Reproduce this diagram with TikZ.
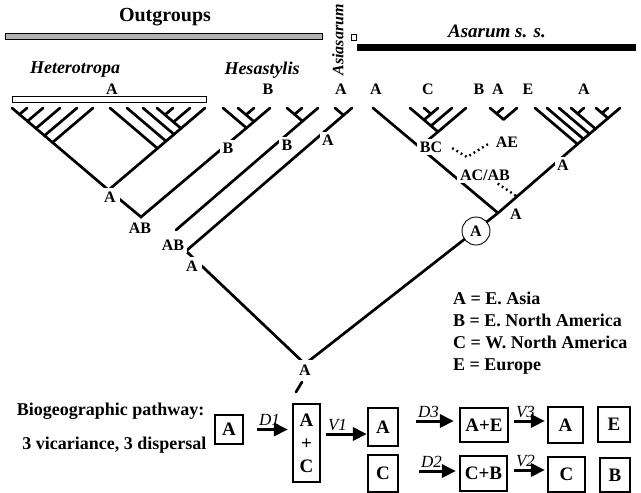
\documentclass[tikz,border=0pt]{standalone}
\usepackage{fontspec}
\setmainfont{Liberation Serif}
\usetikzlibrary{arrows.meta}

\begin{document}
\begin{tikzpicture}[x=1pt,y=-1pt,line cap=round,
  branch/.style={line width=2.7pt},
  alt/.style={line width=2.4pt,line cap=butt,dash pattern=on 1.8pt off 3.2pt},
  taxon/.style={font=\fontsize{18}{18}\selectfont\bfseries\itshape},
  tip/.style={font=\fontsize{16}{16}\selectfont\bfseries},
  anc/.style={font=\fontsize{16}{16}\selectfont\bfseries,fill=white,inner sep=2.5pt},
  area/.style={draw,line width=2.2pt,inner sep=0pt,align=center,font=\fontsize{19}{23}\selectfont\bfseries},
  move/.style={line width=3pt,line cap=butt,-{Triangle[length=14pt,width=13pt]}},
  event/.style={font=\fontsize{17}{17}\selectfont\itshape,anchor=south west,inner sep=0.5pt,yshift=1.5pt}]

\useasboundingbox (0,0) rectangle (641,493);
\clip (0,0) rectangle (641,493);

% group names and bars
\node[font=\fontsize{20}{20}\selectfont\bfseries] (outgroups) at (165,17) {Outgroups};
\draw[line width=0.6pt,fill=gray!60] (5,33) rectangle (322,39);
\node[taxon,font=\fontsize{16}{16}\selectfont\bfseries\itshape,rotate=90,anchor=west] (asiasarum) at (338,79) {Asiasarum};
\draw[line width=0.8pt] (351,34) rectangle (356,40);
\node[taxon,font=\fontsize{19}{19}\selectfont\bfseries\itshape] (asarum) at (497,31) {Asarum s. s.};
\fill (357,44) rectangle (636,51);
\node[taxon] (hetero) at (75,70) {Heterotropa};
\node[taxon] (hesa) at (262,70) {Hesastylis};
\draw[line width=0.7pt,fill=white] (12,96) rectangle (206,102);

% areas of the terminals
\foreach \x/\lab [count=\i] in {112/A,268/B,341/A,376/A,428/C,479/B,498/A,528/E,584/A}
  \node[tip] (area\i) at (\x,89) {\lab};

% terminals
\foreach \x [count=\i] in {12,27,43,60,77,93,110,127,143,157,173,190,205,
    223,238,254,270,287,302,318,335,352,373,410,424,438,452,466,490,503,517,
    535,547,559,571,584,596,608,620}
  \coordinate (x\i) at (\x,108);

% clade nodes, from leftmost and rightmost terminal
\foreach \n/\l/\r in {hb2/12/27,hb3/12/43,hb4/12/60,hb5/12/77,hb6/12/93,
    hroot/12/205,hc7/110/205,hc8/127/205,hc9/143/205,hc10/157/205,hd12/157/190,hd11/157/173,
    s1/223/270,s1b/238/270,s1c/238/254,s2/287/318,s2c/287/302,a1/335/352,
    c1/410/466,c2/410/452,c3/410/438,c4/424/438,e1/490/517,e2/490/503,
    g1/535/620,g2/547/620,g3/559/620,g4/571/620,g5/571/584,g6/596/620,g7/596/608}
  \coordinate (\n) at ({(\l+\r)/2},{108+0.425*(\r-\l)});

\foreach \a/\b in {x1/hroot,x2/hb2,x3/hb3,x4/hb4,x5/hb5,x6/hb6,
    x13/hroot,x7/hc7,x8/hc8,x9/hc9,x10/hc10,x12/hd12,x11/hd11,
    x14/s1,x17/s1,x15/s1b,x16/s1c,x18/s2,x20/s2,x19/s2c,x21/a1,x22/a1,
    x24/c1,x28/c1,x27/c2,x26/c3,x25/c4,x29/e1,x31/e1,x30/e2,
    x32/g1,x39/g1,x33/g2,x34/g3,x35/g4,x36/g5,x37/g6,x38/g7}
  \draw[branch] (\a) -- (\b);

% backbone
\coordinate (j1) at (141,217);
\coordinate (j2) at (176,230);
\coordinate (j3) at (186,251);
\coordinate (root) at (305,364);
\coordinate (r) at (498,213);
\coordinate (bcj) at (420,147);
\coordinate (ag) at (517,196.5);
\coordinate (v) at (467,157);
\coordinate (stemtop) at (302,382);
\coordinate (stembot) at (296,392);

\draw[branch] (hroot) -- (j1) -- (s1);
\draw[branch] (j2) -- (s2);
\draw[branch] (a1) -- (j3) -- (root) -- (r) -- (g1);
\draw[branch] (x23) -- (r);
\draw[branch] (c1) -- (bcj);
\draw[branch] (stemtop) -- (stembot);

% ancestral areas
\node[anc,inner sep=4pt] (n0) at (110,197) {A};
\node[anc] (nab1) at (140,228) {AB};
\node[anc] (nab2) at (173,245) {AB};
\node[anc,inner sep=4pt] (na3) at (192,266) {A};
\node[anc] (nb1) at (228,148) {B};
\node[anc] (nb2) at (287,145) {B};
\node[anc] (na4) at (328,140) {A};
\node[anc,inner sep=5pt] (nroot) at (305,370) {A};
\node[anc,inner sep=3pt] (nbc) at (431,147) {BC};
\node[anc] (nae) at (507,142) {AE};
\node[anc,inner sep=3pt] (nacab) at (485,175) {AC/AB};
\node[anc] (na5) at (563,165) {A};
\node[anc] (na6) at (516,214) {A};
\node[anc,draw,circle,line width=0.9pt,minimum size=28pt,inner sep=1pt] (nbase) at (476,231) {A};

\draw[alt,shorten <=8pt,shorten >=6pt] ([yshift=3pt]nbc.east) -- (v) -- ([yshift=1pt]nae.west);
\draw[alt] (nacab) -- (ag);

% key
\node[anchor=north west,align=left,inner sep=0pt,font=\fontsize{18}{22}\selectfont\bfseries] (key) at (453,292)
  {A = E. Asia\\B = E. North America\\C = W. North America\\E = Europe};

% pathway
\node[anchor=east,font=\fontsize{18}{18}\selectfont\bfseries] (pw1) at (208,411) {Biogeographic pathway:};
\node[anchor=east,font=\fontsize{18}{18}\selectfont\bfseries] (pw2) at (210,445) {3 vicariance, 3 dispersal};

\node[area,minimum width=28pt,minimum height=29pt] (bA1) at (229,429.5) {A};
\node[area,minimum width=27pt,minimum height=78pt] (bAC) at (306.5,443) {A\\+\\C};
\node[area,minimum width=30pt,minimum height=38pt] (bA2) at (383,427) {A};
\node[area,minimum width=30pt,minimum height=37pt] (bC2) at (383,473.5) {C};
\node[area,minimum width=48pt,minimum height=34pt] (bAE) at (484,425) {A+E};
\node[area,minimum width=47pt,minimum height=35pt] (bCB) at (483.5,473.5) {C+B};
\node[area,minimum width=35pt,minimum height=36pt] (bA3) at (565.5,425) {A};
\node[area,minimum width=32pt,minimum height=35pt] (bE3) at (614,424.5) {E};
\node[area,minimum width=37pt,minimum height=35pt] (bC3) at (566.5,474.5) {C};
\node[area,minimum width=30pt,minimum height=34pt] (bB3) at (615,475) {B};

\draw[move] ([xshift=13pt]bA1.east) -- node[event,pos=0]{D1} ([xshift=-4pt]bA1.east -| bAC.west);
\draw[move] ([xshift=5pt,yshift=9pt]bAC.east) -- node[event,pos=0]{V1} ([yshift=9pt]bAC.east -| bA2.west);
\draw[move] ([xshift=17pt,yshift=6pt]bA2.east) -- node[event,pos=0]{D3} ([xshift=-5pt,yshift=6pt]bA2.east -| bAE.west);
\draw[move] ([xshift=5pt,yshift=4pt]bAE.east) -- node[event,pos=0]{V3} ([xshift=-2pt,yshift=4pt]bAE.east -| bA3.west);
\draw[move] ([xshift=20pt,yshift=2.5pt]bC2.east) -- node[event,pos=0]{D2} ([xshift=-3pt,yshift=2.5pt]bC2.east -| bCB.west);
\draw[move] ([xshift=6pt,yshift=3.5pt]bCB.east) -- node[event,pos=0]{V2} ([xshift=-2pt,yshift=3.5pt]bCB.east -| bC3.west);
\end{tikzpicture}
\end{document}
